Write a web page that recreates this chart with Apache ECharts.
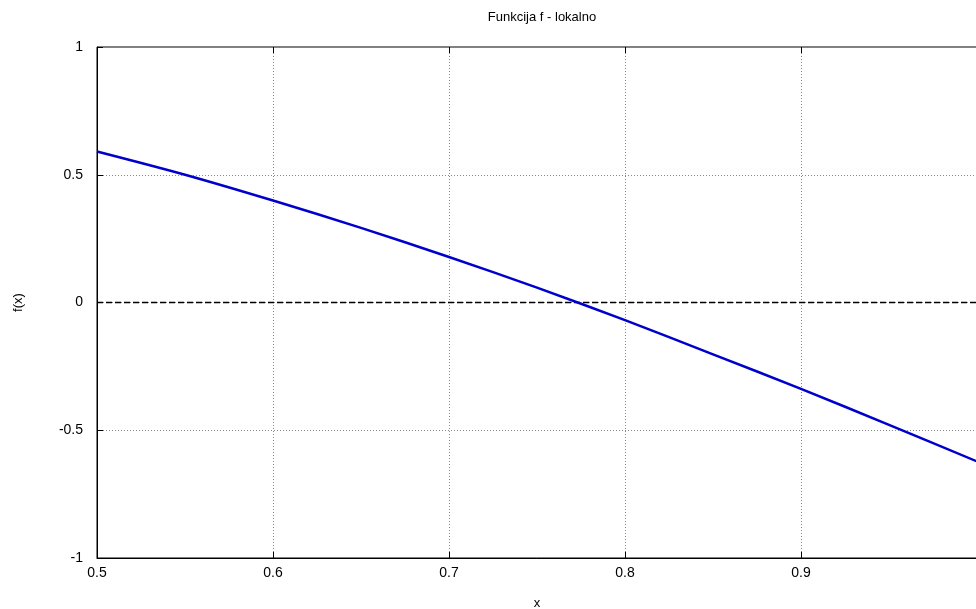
<!DOCTYPE html>
<html>
<head>
<meta charset="utf-8">
<title>Funkcija f - lokalno</title>
<script src="https://cdn.jsdelivr.net/npm/echarts@6/dist/echarts.min.js"></script>
<style>
  html, body { margin: 0; padding: 0; background: #fff; }
  #chart { width: 976px; height: 609px; }
</style>
</head>
<body>
<div id="chart"></div>
<script>
// values
var xValues = [0.5, 0.55, 0.6, 0.65, 0.7, 0.75, 0.8, 0.85, 0.9, 0.95, 1.0]
var fValues = [0.591, 0.5, 0.399, 0.292, 0.178, 0.058, -0.069, -0.203, -0.338, -0.479, -0.622]
var yTicks = [-1, -0.5, 0, 0.5, 1]

var chart = echarts.init(document.getElementById('chart'))

var font = 'Liberation Sans, Arial, sans-serif'
var points = xValues.map(function(x, i) { return [x, fValues[i]] })

chart.setOption({
  animation: false,
  title: {
    text: 'Funkcija f - lokalno',
    left: 537,
    top: 6,
    textAlign: 'center',
    textStyle: { fontFamily: font, fontSize: 13, fontWeight: 'normal', color: '#000' }
  },
  grid: {
    left: 97, right: -1, top: 47, bottom: 51,
    outerBoundsMode: 'none',
    containLabel: false,
    show: true, borderColor: '#000', borderWidth: 1
  },
  xAxis: [{
    type: 'value', min: 0.5, max: 1.0, interval: 0.1,
    name: 'x', nameLocation: 'middle', nameGap: 39,
    nameTextStyle: { fontFamily: font, fontSize: 13, color: '#000' },
    axisLine: { show: true, onZero: false, lineStyle: { color: '#000' } },
    axisTick: { show: true, inside: true, length: 6, lineStyle: { color: '#000' } },
    axisLabel: {
      fontFamily: font, fontSize: 14, color: '#000', margin: 8,
      showMaxLabel: false,
      formatter: function(v) { return String(Math.round(v * 10) / 10) }
    },
    splitLine: { show: true, lineStyle: { color: '#888', type: [1, 2], width: 1 } }
  }, {
    // mirror ticks along the top
    type: 'value', position: 'top', min: 0.5, max: 1.0, interval: 0.1,
    axisLine: { show: false, onZero: false },
    axisTick: { show: true, inside: true, length: 6, lineStyle: { color: '#000' } },
    axisLabel: { show: false },
    splitLine: { show: false }
  }],
  yAxis: {
    type: 'value', min: yTicks[0], max: yTicks[yTicks.length - 1], interval: 0.5,
    name: 'f(x)', nameLocation: 'middle', nameGap: 72, nameRotate: 90,
    nameTextStyle: { fontFamily: font, fontSize: 13, color: '#000' },
    axisLine: { show: true, onZero: false, lineStyle: { color: '#000' } },
    axisTick: { show: true, inside: true, length: 6, lineStyle: { color: '#000' } },
    axisLabel: { fontFamily: font, fontSize: 14, color: '#000', margin: 14 },
    splitLine: { show: true, lineStyle: { color: '#888', type: [1, 2], width: 1 } }
  },
  series: [{
    type: 'line',
    data: points,
    smooth: 0.3,
    showSymbol: false,
    lineStyle: { color: '#0000cc', width: 2.5 },
    markLine: {
      silent: true,
      symbol: 'none',
      label: { show: false },
      lineStyle: { color: '#000', type: [6, 3], width: 1.4 },
      data: [{ yAxis: 0 }]
    },
    z: 5
  }]
})
</script>
</body>
</html>
